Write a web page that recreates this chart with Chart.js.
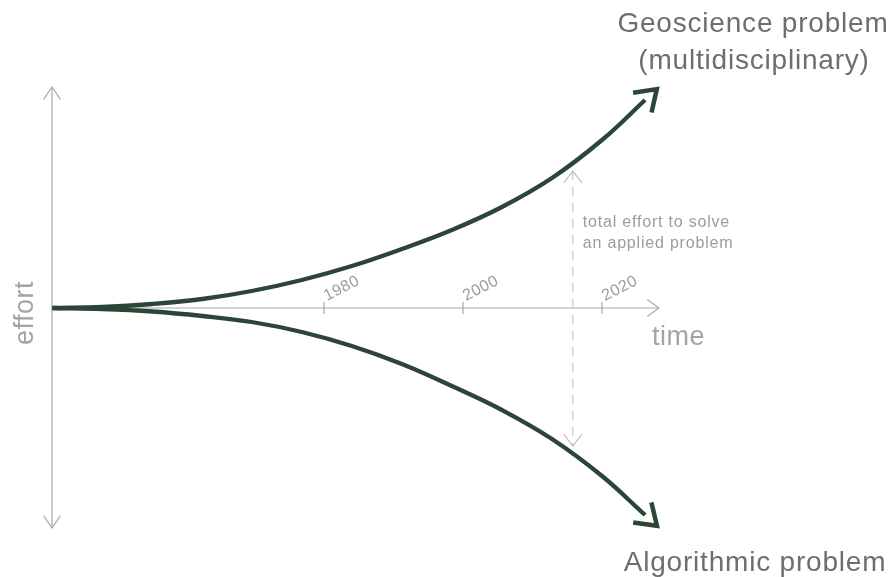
<!DOCTYPE html>
<html>
<head>
<meta charset="utf-8">
<script src="https://cdn.jsdelivr.net/npm/chart.js@4"></script>
<style>
  html, body { margin: 0; padding: 0; background: #fff; }
  #wrap { position: relative; width: 894px; height: 577px; }
</style>
</head>
<body>
<div id="wrap"><canvas id="effortChart"></canvas></div>
<script>
// sample years along the time axis
const years = [1940.9, 1948.1, 1955.3, 1962.5, 1969.6, 1976.8, 1984.0, 1991.2, 1998.4, 2005.6, 2012.8, 2020.0, 2026.2];
// effort above the axis (geoscience) and below it (algorithmic)
const geoEffort = [0, 1, 4, 9, 17, 28, 42, 59, 78, 101, 130, 168, 208];
const algoEffort = [0, -1, -3.5, -8, -14, -24, -38, -56, -78, -102, -131, -168, -207];
// time axis ticks
const tickYears = [1980, 2000, 2020];
const tickLabels = ['1980', '2000', '2020'];
// "total effort" marker
const markerYear = [2015.8, 2015.8];
const markerEffort = [137, -138];

const xMin = 1940.86, xMax = 2028.2;
const yMin = -220, yMax = 221;

const curveColor = '#2b4536';
const axisColor = '#a9a9a9';
const labelColor = '#9c9c9c';
const titleColor = '#6e6e6e';

function toPoints(xs, ys) {
    return xs.map((x, i) => ({ x: x, y: ys[i] }));
}

// open "V" arrow head, angle = direction of travel
function chevron(ctx, tx, ty, angle, len, half, color, width) {
    ctx.save();
    ctx.strokeStyle = color;
    ctx.lineWidth = width;
    ctx.lineJoin = 'miter';
    ctx.lineCap = 'butt';
    ctx.beginPath();
    ctx.moveTo(tx - len * Math.cos(angle - half), ty - len * Math.sin(angle - half));
    ctx.lineTo(tx, ty);
    ctx.lineTo(tx - len * Math.cos(angle + half), ty - len * Math.sin(angle + half));
    ctx.stroke();
    ctx.restore();
}

const diagram = {
    id: 'diagram',
    beforeDatasetsDraw(chart) {
        const ctx = chart.ctx;
        const xs = chart.scales.x, ys = chart.scales.y;
        const x0 = xs.getPixelForValue(xMin);
        const y0 = ys.getPixelForValue(0);
        const top = ys.getPixelForValue(yMax);
        const bottom = ys.getPixelForValue(yMin);
        const right = xs.getPixelForValue(xMax);

        ctx.save();
        ctx.strokeStyle = axisColor;
        ctx.lineWidth = 1.2;
        // effort axis
        ctx.beginPath();
        ctx.moveTo(x0, top);
        ctx.lineTo(x0, bottom);
        // time axis
        ctx.moveTo(x0, y0);
        ctx.lineTo(right, y0);
        ctx.stroke();

        // ticks + rotated labels
        ctx.font = '16px "Liberation Sans", Arial, sans-serif';
        ctx.letterSpacing = '0.5px';
        ctx.fillStyle = labelColor;
        tickYears.forEach((yr, i) => {
            const px = xs.getPixelForValue(yr);
            ctx.beginPath();
            ctx.moveTo(px, y0 - 6);
            ctx.lineTo(px, y0 + 6);
            ctx.stroke();
            ctx.save();
            ctx.translate(px + 3, y0 - 7);
            ctx.rotate(-27 * Math.PI / 180);
            ctx.textBaseline = 'alphabetic';
            ctx.fillText(tickLabels[i], 0, 0);
            ctx.restore();
        });
        ctx.restore();

        chevron(ctx, x0, top, -Math.PI / 2, 15, 0.6, axisColor, 1.2);
        chevron(ctx, x0, bottom, Math.PI / 2, 15, 0.6, axisColor, 1.2);
        chevron(ctx, right, y0, 0, 14.5, 0.62, axisColor, 1.2);
    },
    afterDatasetsDraw(chart) {
        const ctx = chart.ctx;
        const xs = chart.scales.x, ys = chart.scales.y;

        // arrow heads on the two curves
        [0, 1].forEach(di => {
            const pts = chart.getDatasetMeta(di).data;
            const a = pts[pts.length - 2], b = pts[pts.length - 1];
            const ang = Math.atan2(b.y - a.y, b.x - a.x);
            const tx = b.x + 16 * Math.cos(ang), ty = b.y + 16 * Math.sin(ang);
            chevron(ctx, tx, ty, ang, 24, 0.6, curveColor, 4.5);
        });

        // marker arrow heads
        const mx = xs.getPixelForValue(markerYear[0]);
        chevron(ctx, mx, ys.getPixelForValue(markerEffort[0]), -Math.PI / 2, 15, 0.65, '#bdbdbd', 1.1);
        chevron(ctx, mx, ys.getPixelForValue(markerEffort[1]), Math.PI / 2, 15, 0.65, '#bdbdbd', 1.1);

        ctx.save();
        ctx.textBaseline = 'alphabetic';
        // marker note
        ctx.fillStyle = labelColor;
        ctx.font = '16px "Liberation Sans", Arial, sans-serif';
        ctx.letterSpacing = '0.8px';
        ctx.textAlign = 'left';
        ctx.fillText('total effort to solve', mx + 10, 227);
        ctx.fillText('an applied problem', mx + 10, 248);

        // curve titles
        ctx.fillStyle = titleColor;
        ctx.font = '28px "Liberation Sans", Arial, sans-serif';
        ctx.letterSpacing = '0.8px';
        ctx.textAlign = 'center';
        ctx.fillText('Geoscience problem', 753, 32);
        ctx.fillText('(multidisciplinary)', 754, 69);
        ctx.fillText('Algorithmic problem', 755, 571);

        // axis titles
        ctx.fillStyle = '#a3a3a3';
        ctx.font = '27px "Liberation Sans", Arial, sans-serif';
        ctx.letterSpacing = '0.5px';
        ctx.textAlign = 'left';
        ctx.fillText('time', 652, 345);
        ctx.save();
        ctx.translate(33, 313);
        ctx.rotate(-Math.PI / 2);
        ctx.textAlign = 'center';
        ctx.fillText('effort', 0, 0);
        ctx.restore();
        ctx.restore();
    }
};

new Chart(document.getElementById('effortChart'), {
    type: 'line',
    data: {
        datasets: [
            {
                label: 'Geoscience problem (multidisciplinary)',
                data: toPoints(years, geoEffort),
                borderColor: curveColor,
                borderWidth: 4.3,
                pointRadius: 0,
                tension: 0.4,
                fill: false
            },
            {
                label: 'Algorithmic problem',
                data: toPoints(years, algoEffort),
                borderColor: curveColor,
                borderWidth: 4.3,
                pointRadius: 0,
                tension: 0.4,
                fill: false
            },
            {
                label: 'total effort to solve an applied problem',
                data: toPoints(markerYear, markerEffort),
                borderColor: '#c4c4c4',
                borderWidth: 1.1,
                borderDash: [9, 7],
                pointRadius: 0,
                fill: false
            }
        ]
    },
    options: {
        responsive: true,
        maintainAspectRatio: false,
        animation: false,
        layout: { padding: { left: 52, right: 235, top: 87, bottom: 49 } },
        plugins: {
            legend: { display: false },
            tooltip: { enabled: false }
        },
        scales: {
            x: { type: 'linear', min: xMin, max: xMax, display: false },
            y: { type: 'linear', min: yMin, max: yMax, display: false }
        }
    },
    plugins: [diagram]
});
</script>
</body>
</html>
